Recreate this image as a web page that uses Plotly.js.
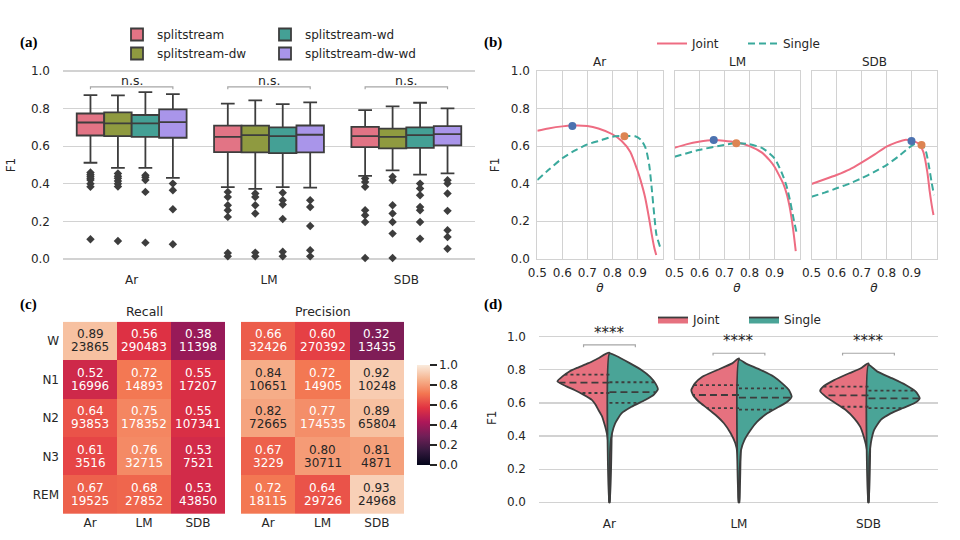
<!DOCTYPE html>
<html>
<head>
<meta charset="utf-8">
<script src="https://cdn.plot.ly/plotly-3.0.1.min.js"></script>
<style>html,body{margin:0;padding:0;background:#ffffff;}#chart{width:960px;height:540px;}</style>
</head>
<body>
<div id="chart"></div>
<script>
// ===================== DATA =====================
const groups = ['Ar', 'LM', 'SDB'];
const methods = ['splitstream', 'splitstream-dw', 'splitstream-wd', 'splitstream-dw-wd'];

// (a) box statistics: rows = methods, columns = groups (Ar, LM, SDB)
const boxQ1   = [[0.657,0.568,0.595],[0.654,0.567,0.588],[0.650,0.563,0.591],[0.645,0.567,0.604]];
const boxMed  = [[0.726,0.650,0.654],[0.721,0.659,0.650],[0.721,0.654,0.659],[0.728,0.661,0.664]];
const boxQ3   = [[0.774,0.709,0.703],[0.780,0.709,0.693],[0.766,0.700,0.700],[0.796,0.710,0.707]];
const boxLow  = [[0.512,0.382,0.442],[0.485,0.373,0.471],[0.485,0.382,0.449],[0.432,0.380,0.455]];
const boxHigh = [[0.872,0.826,0.792],[0.870,0.844,0.812],[0.888,0.824,0.831],[0.877,0.833,0.801]];
const boxOutliers = [
  [[0.46,0.45,0.44,0.43,0.42,0.40,0.384,0.105],[0.357,0.330,0.286,0.259,0.224,0.032,0.014],[0.428,0.41,0.384,0.259,0.233,0.197,0.005]],
  [[0.455,0.44,0.43,0.415,0.40,0.385,0.096],[0.348,0.33,0.286,0.242,0.034,0.014],[0.437,0.419,0.286,0.242,0.197,0.135,0.005]],
  [[0.446,0.435,0.42,0.357,0.087],[0.352,0.313,0.29,0.213,0.039,0.014],[0.401,0.375,0.339,0.277,0.259,0.197,0.108]],
  [[0.401,0.366,0.265,0.078],[0.313,0.277,0.176,0.046,0.014],[0.419,0.401,0.348,0.256,0.153,0.117,0.055]]
];
const sigA = ['n.s.', 'n.s.', 'n.s.'];

// (b) F1 vs threshold theta, per group
const thetaJoint = [
  [0.5,0.544,0.6,0.64,0.7,0.744,0.8,0.837,0.871,0.9,0.912,0.93,0.947,0.957,0.967,0.975],
  [0.5,0.547,0.597,0.657,0.697,0.747,0.8,0.85,0.88,0.9,0.92,0.935,0.95,0.96,0.97,0.978,0.985],
  [0.5,0.553,0.6,0.653,0.7,0.753,0.8,0.84,0.873,0.9,0.927,0.947,0.963,0.973,0.983,0.988]
];
const f1Joint = [
  [0.682,0.694,0.705,0.709,0.707,0.694,0.663,0.627,0.570,0.470,0.420,0.330,0.210,0.130,0.060,0.020],
  [0.591,0.609,0.623,0.632,0.629,0.620,0.600,0.565,0.525,0.490,0.440,0.400,0.340,0.280,0.200,0.120,0.040],
  [0.398,0.423,0.446,0.476,0.512,0.556,0.597,0.620,0.633,0.629,0.615,0.570,0.464,0.357,0.268,0.233]
];
const thetaSingle = [
  [0.5,0.544,0.6,0.651,0.7,0.757,0.8,0.848,0.891,0.915,0.933,0.947,0.957,0.967,0.976,0.99],
  [0.5,0.597,0.697,0.747,0.797,0.853,0.9,0.927,0.947,0.963,0.976,0.988],
  [0.5,0.553,0.6,0.653,0.7,0.753,0.8,0.847,0.887,0.913,0.94,0.956,0.969,0.98,0.99]
];
const f1Single = [
  [0.419,0.472,0.535,0.577,0.609,0.632,0.650,0.654,0.652,0.632,0.588,0.499,0.375,0.233,0.126,0.064],
  [0.543,0.579,0.606,0.615,0.611,0.588,0.535,0.464,0.393,0.304,0.215,0.140],
  [0.330,0.352,0.375,0.401,0.428,0.464,0.499,0.544,0.588,0.611,0.606,0.579,0.499,0.410,0.339]
];
const bestJointTheta = [0.64, 0.657, 0.90];
const bestJointF1    = [0.707, 0.632, 0.627];
const bestSingleTheta = [0.848, 0.747, 0.94];
const bestSingleF1    = [0.652, 0.615, 0.606];

// (c) heatmaps
const stages = ['W', 'N1', 'N2', 'N3', 'REM'];
const recallVals = [[0.89,0.56,0.38],[0.52,0.72,0.55],[0.64,0.75,0.55],[0.61,0.76,0.53],[0.67,0.68,0.53]];
const recallN = [[23865,290483,11398],[16996,14893,17207],[93853,178352,107341],[3516,32715,7521],[19525,27852,43850]];
const precVals = [[0.66,0.60,0.32],[0.84,0.72,0.92],[0.82,0.77,0.89],[0.67,0.80,0.81],[0.72,0.64,0.93]];
const precN = [[32426,270392,13435],[10651,14905,10248],[72665,174535,65804],[3229,30711,4871],[18115,29726,24968]];

// (d) split violins: outline F1 levels and half-widths (x-axis units), per group
const violinJointY = [
  [0.903,0.87,0.84,0.81,0.79,0.76,0.73,0.70,0.678,0.65,0.618,0.59,0.557,0.52,0.479,0.44,0.40,0.35,0.30,0.20,0.0],
  [0.869,0.839,0.799,0.758,0.718,0.678,0.648,0.607,0.568,0.527,0.477,0.417,0.356,0.296,0.20,0.10,0.0],
  [0.839,0.809,0.779,0.738,0.698,0.672,0.638,0.598,0.557,0.507,0.457,0.396,0.316,0.20,0.10,0.0]
];
const violinJointW = [
  [0,0.085,0.162,0.255,0.309,0.363,0.402,0.332,0.270,0.201,0.136,0.108,0.085,0.058,0.041,0.027,0.016,0.009,0.005,0.003,0.003],
  [0,0.052,0.168,0.283,0.340,0.368,0.355,0.309,0.245,0.180,0.116,0.064,0.028,0.012,0.006,0.004,0.004],
  [0,0.059,0.149,0.265,0.350,0.373,0.330,0.253,0.175,0.110,0.064,0.036,0.012,0.005,0.004,0.003]
];
const violinSingleY = [
  [0.899,0.885,0.839,0.799,0.758,0.718,0.682,0.648,0.618,0.577,0.537,0.477,0.417,0.356,0.30,0.20,0.0],
  [0.862,0.839,0.799,0.758,0.718,0.678,0.638,0.607,0.577,0.537,0.487,0.437,0.376,0.316,0.20,0.10,0.0],
  [0.83,0.789,0.748,0.708,0.668,0.628,0.598,0.568,0.537,0.497,0.437,0.356,0.276,0.15,0.0]
];
const violinSingleW = [
  [0,0.05,0.160,0.247,0.314,0.355,0.374,0.340,0.276,0.170,0.093,0.044,0.020,0.008,0.004,0.003,0.003],
  [0,0.052,0.168,0.270,0.334,0.386,0.407,0.373,0.309,0.219,0.141,0.090,0.042,0.016,0.006,0.004,0.004],
  [0,0.069,0.185,0.288,0.365,0.396,0.353,0.263,0.172,0.095,0.044,0.018,0.007,0.004,0.003]
];
const jointQ1 = [0.660,0.569,0.577], jointMed = [0.723,0.648,0.646], jointQ3 = [0.771,0.708,0.698];
const singleQ1 = [0.600,0.559,0.569], singleMed = [0.665,0.632,0.628], singleQ3 = [0.725,0.688,0.674];
const sigD = ['****', '****', '****'];

// ===================== STYLE =====================
const FONT = 'DejaVu Sans';
const TXT = '#262626';
const GRID = '#d2d2d2';
const EDGE = '#3d3d3d';
const W = 960, H = 540;
const px = v => v / W;
const py = v => 1 - v / H;
const tf = {family: FONT, size: 12, color: TXT};

const boxColors = ['#e27485', '#8f9a40', '#44a095', '#a995ea'];
const hueOffsets = [-0.3, -0.1, 0.1, 0.3];
const jointLine = '#ee6c82', singleLine = '#3aa99c';
const jointFill = '#e6717f', singleFill = '#4aa497';
const rocket = [[0,'#03051a'],[0.1429,'#35193e'],[0.2857,'#701f57'],[0.4286,'#ad1759'],
                [0.5714,'#e13342'],[0.7143,'#f37651'],[0.8571,'#f6b48f'],[1,'#faebdd']];

const traces = [];
const shapes = [];
const annotations = [];

// ---------- (a) boxes ----------
methods.forEach((m, i) => {
  traces.push({
    type: 'box', orientation: 'v', name: m,
    x: groups.map((g, j) => j + hueOffsets[i]),
    q1: boxQ1[i], median: boxMed[i], q3: boxQ3[i],
    lowerfence: boxLow[i], upperfence: boxHigh[i],
    width: 0.2, whiskerwidth: 0.5, boxpoints: false,
    fillcolor: boxColors[i], line: {color: EDGE, width: 1.8},
    xaxis: 'x', yaxis: 'y', legend: i < 2 ? 'legend' : 'legend2', hoverinfo: 'skip'
  });
});
methods.forEach((m, i) => {
  const ox = [], oy = [];
  boxOutliers[i].forEach((arr, j) => arr.forEach(v => { ox.push(j + hueOffsets[i]); oy.push(v); }));
  traces.push({type: 'scatter', mode: 'markers', x: ox, y: oy, showlegend: false, cliponaxis: false,
    marker: {symbol: 'diamond', size: 6.5, color: EDGE}, xaxis: 'x', yaxis: 'y', hoverinfo: 'skip'});
});
groups.forEach((g, j) => {
  shapes.push({type: 'path', xref: 'x', yref: 'y',
    path: `M${j-0.3},0.903 L${j-0.3},0.916 L${j+0.3},0.916 L${j+0.3},0.903`,
    line: {color: '#a6a6a6', width: 1.2}});
  annotations.push({xref: 'x', yref: 'y', x: j, y: 0.952, text: sigA[j], showarrow: false,
    yanchor: 'middle', font: {family: FONT, size: 12.5, color: TXT}});
});

// ---------- (b) threshold curves ----------
groups.forEach((g, k) => {
  const xa = 'x' + (k + 2), ya = 'y' + (k + 2);
  traces.push({type: 'scatter', mode: 'lines', name: 'Joint', x: thetaJoint[k], y: f1Joint[k],
    line: {color: jointLine, width: 2, shape: 'spline', smoothing: 0.6},
    xaxis: xa, yaxis: ya, legend: 'legend3', legendgroup: 'bj', showlegend: k === 0, hoverinfo: 'skip'});
  traces.push({type: 'scatter', mode: 'lines', name: 'Single', x: thetaSingle[k], y: f1Single[k],
    line: {color: singleLine, width: 2, dash: '7px,4px', shape: 'spline', smoothing: 0.6},
    xaxis: xa, yaxis: ya, legend: 'legend3', legendgroup: 'bs', showlegend: k === 0, hoverinfo: 'skip'});
});
groups.forEach((g, k) => {
  const xa = 'x' + (k + 2), ya = 'y' + (k + 2);
  traces.push({type: 'scatter', mode: 'markers', x: [bestJointTheta[k]], y: [bestJointF1[k]],
    marker: {color: '#4c72b0', size: 8}, xaxis: xa, yaxis: ya, showlegend: false, hoverinfo: 'skip'});
  traces.push({type: 'scatter', mode: 'markers', x: [bestSingleTheta[k]], y: [bestSingleF1[k]],
    marker: {color: '#dd8452', size: 8}, xaxis: xa, yaxis: ya, showlegend: false, hoverinfo: 'skip'});
  annotations.push({xref: 'x' + (k + 2) + ' domain', yref: 'paper', x: 0.5, y: py(62), text: g,
    showarrow: false, yanchor: 'middle', font: {family: FONT, size: 12, color: TXT}});
});

// ---------- (c) heatmaps ----------
traces.push({type: 'heatmap', z: recallVals, x: groups, y: stages, coloraxis: 'coloraxis',
  xaxis: 'x5', yaxis: 'y5', hoverinfo: 'skip'});
traces.push({type: 'heatmap', z: precVals, x: groups, y: stages, coloraxis: 'coloraxis',
  xaxis: 'x6', yaxis: 'y6', hoverinfo: 'skip'});
[[recallVals, recallN, 'x5', 'y5'], [precVals, precN, 'x6', 'y6']].forEach(([V, N, xa, ya]) => {
  stages.forEach((s, r) => groups.forEach((g, c) => {
    const col = V[r][c] >= 0.785 ? TXT : '#ffffff';
    annotations.push({xref: xa, yref: ya, x: g, y: s, text: V[r][c].toFixed(2), showarrow: false,
      yshift: 6.5, font: {family: FONT, size: 12, color: col}});
    annotations.push({xref: xa, yref: ya, x: g, y: s, text: String(N[r][c]), showarrow: false,
      yshift: -6.5, font: {family: FONT, size: 12, color: col}});
  }));
});
annotations.push({xref: 'x5 domain', yref: 'paper', x: 0.5, y: py(311), text: 'Recall', showarrow: false,
  yanchor: 'middle', font: {family: FONT, size: 12.5, color: TXT}});
annotations.push({xref: 'x6 domain', yref: 'paper', x: 0.5, y: py(311), text: 'Precision', showarrow: false,
  yanchor: 'middle', font: {family: FONT, size: 12.5, color: TXT}});

// ---------- (d) split violins ----------
function halfPoly(c, ys, ws, side) {
  const x = ys.map((y, i) => c + side * ws[i]);
  const y = ys.slice();
  x.push(c); y.push(ys[ys.length - 1]);
  x.push(c); y.push(ys[0]);
  return {x, y};
}
function widthAt(ys, ws, q) {
  for (let i = 0; i < ys.length - 1; i++) {
    if (ys[i] >= q && q >= ys[i + 1]) {
      const t = (ys[i] - q) / (ys[i] - ys[i + 1]);
      return ws[i] + t * (ws[i + 1] - ws[i]);
    }
  }
  return 0;
}
groups.forEach((g, k) => {
  const pj = halfPoly(k, violinJointY[k], violinJointW[k], -1);
  const ps = halfPoly(k, violinSingleY[k], violinSingleW[k], 1);
  traces.push({type: 'scatter', mode: 'lines', name: 'Joint', x: pj.x, y: pj.y, fill: 'toself',
    fillcolor: jointFill, line: {color: EDGE, width: 1.8, shape: 'spline', smoothing: 0.5},
    xaxis: 'x7', yaxis: 'y7', legend: 'legend4', legendgroup: 'vj', showlegend: k === 0, hoverinfo: 'skip'});
  traces.push({type: 'scatter', mode: 'lines', name: 'Single', x: ps.x, y: ps.y, fill: 'toself',
    fillcolor: singleFill, line: {color: EDGE, width: 1.8, shape: 'spline', smoothing: 0.5},
    xaxis: 'x7', yaxis: 'y7', legend: 'legend4', legendgroup: 'vs', showlegend: k === 0, hoverinfo: 'skip'});
});
groups.forEach((g, k) => {
  const sets = [
    [violinJointY[k], violinJointW[k], -1, [jointQ1[k], jointMed[k], jointQ3[k]]],
    [violinSingleY[k], violinSingleW[k], 1, [singleQ1[k], singleMed[k], singleQ3[k]]]
  ];
  sets.forEach(([ys, ws, side, qs]) => {
    qs.forEach((q, qi) => {
      const w = widthAt(ys, ws, q);
      traces.push({type: 'scatter', mode: 'lines', x: [k, k + side * w], y: [q, q], showlegend: false,
        line: {color: EDGE, width: 1.8, dash: qi === 1 ? '7px,4px' : '3px,3px'},
        xaxis: 'x7', yaxis: 'y7', hoverinfo: 'skip'});
    });
  });
});
const sigDLevel = [0.95, 0.90, 0.90];
groups.forEach((g, k) => {
  const h = sigDLevel[k];
  shapes.push({type: 'path', xref: 'x7', yref: 'y7',
    path: `M${k-0.2},${h-0.014} L${k-0.2},${h} L${k+0.2},${h} L${k+0.2},${h-0.014}`,
    line: {color: '#a6a6a6', width: 1.2}});
  annotations.push({xref: 'x7', yref: 'y7', x: k, y: h + 0.072, text: sigD[k], showarrow: false,
    yanchor: 'middle', font: {family: FONT, size: 15, color: TXT}});
});

// ---------- panel letters ----------
[['(a)', 18, 43], ['(b)', 482, 43], ['(c)', 18, 304], ['(d)', 482, 304]].forEach(([t, x, y]) => {
  annotations.push({xref: 'paper', yref: 'paper', x: px(x), y: py(y), text: '<b>' + t + '</b>',
    showarrow: false, xanchor: 'left', yanchor: 'middle',
    font: {family: 'Liberation Serif', size: 15, color: '#000'}});
});

// ===================== LAYOUT =====================
const base = {zeroline: false, showline: false, ticks: '', tickfont: tf, fixedrange: true, automargin: false};
const yTicks = [0, 0.2, 0.4, 0.6, 0.8, 1.0];
const legBase = {bgcolor: 'rgba(0,0,0,0)', borderwidth: 0, font: tf, xanchor: 'left', yanchor: 'top'};

const layout = {
  width: W, height: H, margin: {l: 0, r: 0, t: 0, b: 0},
  paper_bgcolor: '#ffffff', plot_bgcolor: 'rgba(0,0,0,0)',
  font: {family: FONT, size: 12, color: TXT},
  showlegend: true,
  legend:  Object.assign({}, legBase, {x: px(117), y: py(20), orientation: 'v', tracegroupgap: 0}),
  legend2: Object.assign({}, legBase, {x: px(265), y: py(20), orientation: 'v', tracegroupgap: 0}),
  legend3: Object.assign({}, legBase, {x: px(652), y: py(29), orientation: 'h', entrywidth: 46, entrywidthmode: 'pixels'}),
  legend4: Object.assign({}, legBase, {x: px(653), y: py(305), orientation: 'h', entrywidth: 46, entrywidthmode: 'pixels'}),
  coloraxis: {
    colorscale: rocket, cmin: 0, cmax: 1,
    colorbar: {x: px(417), xanchor: 'left', y: py(415), yanchor: 'middle', len: 100, lenmode: 'pixels',
      thickness: 13, thicknessmode: 'pixels', outlinewidth: 0, ticks: 'outside', ticklen: 7, tickwidth: 1.5,
      tickcolor: TXT, tickvals: yTicks, tickformat: '.1f', tickfont: tf, xpad: 0, ypad: 0}
  },
  // (a)
  xaxis: Object.assign({}, base, {domain: [px(63), px(475)], anchor: 'y', type: 'linear', range: [-0.5, 2.5],
    tickvals: [0, 1, 2], ticktext: groups, showgrid: false, ticklabelstandoff: 3}),
  yaxis: Object.assign({}, base, {domain: [py(268.4), py(61.6)], anchor: 'x', range: [-0.05, 1.05],
    tickvals: yTicks, tickformat: '.1f', showgrid: true, gridcolor: GRID, gridwidth: 1.2, ticklabelstandoff: 12,
    title: {text: 'F1', font: tf, standoff: 12}}),
  // (c)
  xaxis5: Object.assign({}, base, {domain: [px(63), px(225)], anchor: 'y5', type: 'category', showgrid: false}),
  yaxis5: Object.assign({}, base, {domain: [py(514), py(321.7)], anchor: 'x5', type: 'category', showgrid: false,
    autorange: 'reversed', ticklabelstandoff: 3}),
  xaxis6: Object.assign({}, base, {domain: [px(241), px(404)], anchor: 'y6', type: 'category', showgrid: false}),
  yaxis6: Object.assign({}, base, {domain: [py(514), py(321.7)], anchor: 'x6', type: 'category', showgrid: false,
    autorange: 'reversed', showticklabels: false}),
  // (d)
  xaxis7: Object.assign({}, base, {domain: [px(539), px(938)], anchor: 'y7', type: 'linear', range: [-0.544, 2.537],
    tickvals: [0, 1, 2], ticktext: groups, showgrid: false, ticklabelstandoff: 6}),
  yaxis7: Object.assign({}, base, {domain: [py(508.9), py(326.76)], anchor: 'x7', range: [-0.04, 1.06],
    tickvals: yTicks, tickformat: '.1f', showgrid: true, gridcolor: GRID, gridwidth: 1.2, ticklabelstandoff: 12,
    title: {text: 'F1', font: tf, standoff: 7}}),
  shapes: shapes,
  annotations: annotations
};
// (b) three subplots
const bDomains = [[537.3, 662.5], [674.5, 799.5], [811.5, 936.5]];
bDomains.forEach((d, k) => {
  layout['xaxis' + (k + 2)] = Object.assign({}, base, {domain: [px(d[0]), px(d[1])], anchor: 'y' + (k + 2),
    type: 'linear', range: [0.5, 1.0], tickvals: [0.5, 0.6, 0.7, 0.8, 0.9], tickformat: '.1f',
    showgrid: true, gridcolor: GRID, showline: true, mirror: true, linecolor: GRID, linewidth: 1,
    ticklabelstandoff: 3, title: {text: '<i>θ</i>', font: tf, standoff: 4}});
  layout['yaxis' + (k + 2)] = Object.assign({}, base, {domain: [py(258.7), py(71)], anchor: 'x' + (k + 2),
    range: [0, 1], tickvals: yTicks, tickformat: '.1f', showticklabels: k === 0,
    showgrid: true, gridcolor: GRID, showline: true, mirror: true, linecolor: GRID, linewidth: 1,
    ticklabelstandoff: 4, title: k === 0 ? {text: 'F1', font: tf, standoff: 8} : {text: ''}});
});

Plotly.newPlot('chart', traces, layout, {staticPlot: true, displayModeBar: false});
</script>
</body>
</html>
